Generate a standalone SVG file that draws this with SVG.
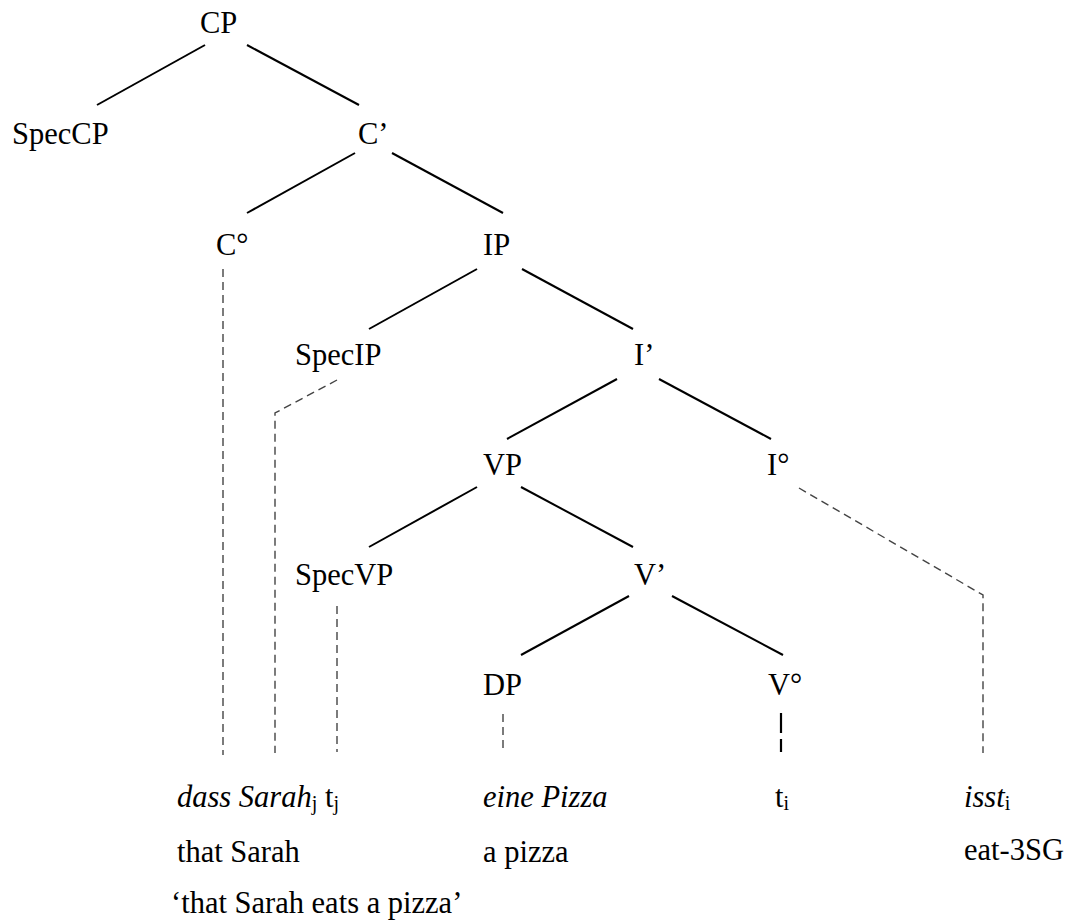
<svg xmlns="http://www.w3.org/2000/svg" width="1071" height="924" viewBox="0 0 1071 924">
  <style>
    text { font-family: "Liberation Serif", "Times New Roman", serif; font-size: 30.5px; fill: #000; }
    .it { font-style: italic; }
    .sub { font-size: 20px; font-style: normal; }
    .branch { stroke: #000; stroke-width: 2; fill: none; stroke-linecap: butt; }
    .link { stroke: #444; stroke-width: 1.4; fill: none; stroke-dasharray: 8 5; }
    .link-dark { stroke: #000; stroke-width: 2.2; fill: none; stroke-dasharray: 20 6; }
  </style>
  <rect width="1071" height="924" fill="#fff"/>

  <!-- tree branches and terminal links -->
  <g id="connectors">
    <line class="branch" x1="205" y1="45" x2="97" y2="105"/>
    <line class="branch" x1="247" y1="45" x2="359" y2="105"/>
    <line class="branch" x1="355" y1="153" x2="247" y2="213"/>
    <line class="branch" x1="392" y1="153" x2="503" y2="213"/>
    <line class="branch" x1="477" y1="269" x2="369" y2="329"/>
    <line class="branch" x1="522" y1="269" x2="633" y2="329"/>
    <line class="branch" x1="617" y1="379" x2="507" y2="439"/>
    <line class="branch" x1="659" y1="379" x2="771" y2="439"/>
    <line class="branch" x1="477" y1="487" x2="369" y2="547"/>
    <line class="branch" x1="521" y1="487" x2="633" y2="547"/>
    <line class="branch" x1="629" y1="596" x2="521" y2="655"/>
    <line class="branch" x1="672" y1="596" x2="783" y2="655"/>

    <line class="link" x1="223" y1="269" x2="223" y2="755"/>
    <polyline class="link" points="337,380 275,413 275,753"/>
    <line class="link" x1="337" y1="606" x2="337" y2="752"/>
    <line class="link" x1="503" y1="714" x2="503" y2="753"/>
    <line class="link-dark" x1="781" y1="713" x2="781" y2="752"/>
    <polyline class="link" points="799,488 983,595 983,753"/>
  </g>

  <g id="CP"><text x="200" y="33">CP</text></g>
  <g id="SpecCP"><text x="12" y="144">SpecCP</text></g>
  <g id="Cbar"><text x="358" y="144">C’</text></g>
  <g id="C0"><text x="216" y="255">C°</text></g>
  <g id="IP"><text x="483" y="255">IP</text></g>
  <g id="SpecIP"><text x="295" y="365">SpecIP</text></g>
  <g id="Ibar"><text x="634" y="365">I’</text></g>
  <g id="VP"><text x="483" y="475">VP</text></g>
  <g id="I0"><text x="767" y="475">I°</text></g>
  <g id="SpecVP"><text x="295" y="585">SpecVP</text></g>
  <g id="Vbar"><text x="634" y="585">V’</text></g>
  <g id="DP"><text x="483" y="695">DP</text></g>
  <g id="V0"><text x="768" y="695">V°</text></g>

  <!-- German words, gloss and translation -->
  <g id="words">
    <text x="177" y="807"><tspan class="it">dass Sarah</tspan><tspan class="sub" dy="3">j</tspan><tspan dy="-3"> t</tspan><tspan class="sub" dy="3">j</tspan></text>
    <text x="483" y="807" class="it">eine Pizza</text>
    <text x="775" y="807">t<tspan class="sub" dy="3">i</tspan></text>
    <text x="964" y="807"><tspan class="it">isst</tspan><tspan class="sub" dy="3">i</tspan></text>
  </g>
  <g id="gloss">
    <text x="177" y="862">that Sarah</text>
    <text x="483" y="862">a pizza</text>
    <text x="964" y="860">eat-3SG</text>
  </g>
  <g id="translation">
    <text x="171" y="913">‘that Sarah eats a pizza’</text>
  </g>
</svg>
